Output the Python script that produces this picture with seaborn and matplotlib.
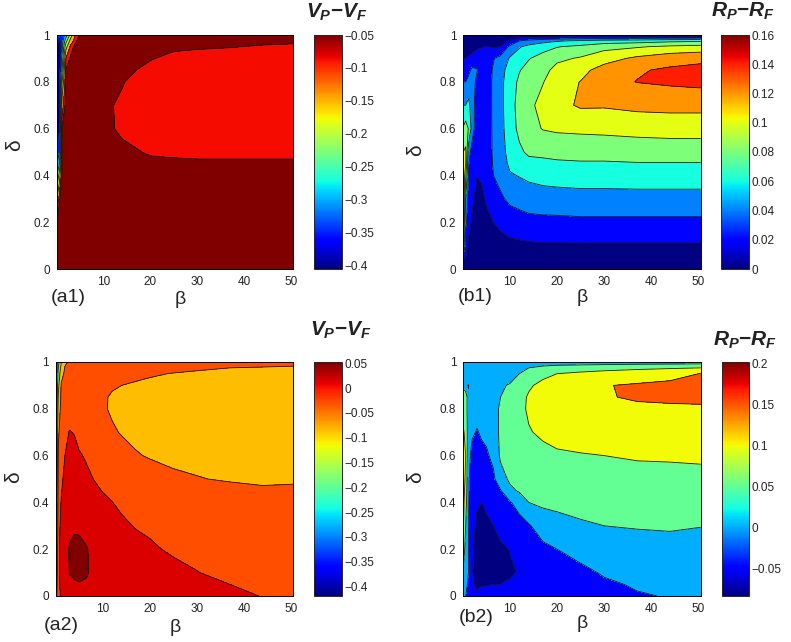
import numpy as np
import matplotlib
matplotlib.use('Agg')
import matplotlib.pyplot as plt
import matplotlib.colors as mcolors
import matplotlib.cm as cm
import seaborn as sns

sns.set_theme(style='white')
plt.rcParams['font.family'] = ['Liberation Sans', 'DejaVu Sans']
plt.rcParams['mathtext.fontset'] = 'custom'
plt.rcParams['mathtext.it'] = 'Liberation Sans:bold:italic'
plt.rcParams['mathtext.rm'] = 'Liberation Sans:bold'
plt.rcParams['mathtext.bf'] = 'Liberation Sans:bold'
plt.rcParams['axes.unicode_minus'] = True
plt.rcParams['contour.negative_linestyle'] = 'solid'

# ---------------- grids (beta along x, delta along y) ----------------
beta_grid = [0.1, 0.6, 1.2, 2, 3, 4, 5, 6.5, 8, 10, 12, 14, 17, 20, 25, 30, 37, 44, 50.5]
delta_grid = [0, 0.05, 0.1, 0.2, 0.3, 0.4, 0.45, 0.5, 0.6, 0.7, 0.8, 0.85, 0.9, 0.95, 0.975, 1.0]

# each inner list: values along delta_grid for one beta of beta_grid
a1_columns = [
    [-0.06, -0.06, -0.06, -0.07, -0.15, -0.25, -0.3, -0.33, -0.37, -0.39, -0.40, -0.40, -0.39, -0.36, -0.33, -0.29],
    [-0.058, -0.058, -0.058, -0.06, -0.08, -0.18, -0.25, -0.3, -0.36, -0.38, -0.38, -0.38, -0.38, -0.38, -0.36, -0.34],
    [-0.058, -0.058, -0.058, -0.058, -0.06, -0.062, -0.063, -0.064, -0.075, -0.12, -0.2, -0.25, -0.28, -0.31, -0.32, -0.33],
    [-0.058, -0.058, -0.058, -0.058, -0.058, -0.059, -0.06, -0.06, -0.061, -0.062, -0.065, -0.072, -0.10, -0.17, -0.22, -0.28],
    [-0.058, -0.058, -0.058, -0.058, -0.058, -0.058, -0.058, -0.059, -0.06, -0.06, -0.061, -0.063, -0.07, -0.09, -0.13, -0.18],
    [-0.058, -0.058, -0.058, -0.058, -0.058, -0.058, -0.058, -0.058, -0.059, -0.06, -0.06, -0.061, -0.062, -0.068, -0.08, -0.10],
    [-0.058, -0.058, -0.058, -0.058, -0.058, -0.058, -0.058, -0.059, -0.06, -0.06, -0.06, -0.06, -0.06, -0.062, -0.065, -0.07],
    [-0.057, -0.057, -0.057, -0.058, -0.059, -0.06, -0.061, -0.062, -0.064, -0.064, -0.063, -0.062, -0.061, -0.06, -0.06, -0.059],
    [-0.057, -0.057, -0.057, -0.058, -0.059, -0.061, -0.062, -0.063, -0.066, -0.066, -0.065, -0.063, -0.062, -0.06, -0.06, -0.059],
    [-0.056, -0.056, -0.057, -0.058, -0.06, -0.061, -0.063, -0.065, -0.069, -0.07, -0.067, -0.065, -0.063, -0.061, -0.06, -0.059],
    [-0.056, -0.056, -0.057, -0.058, -0.06, -0.062, -0.065, -0.069, -0.074, -0.0745, -0.071, -0.067, -0.064, -0.061, -0.06, -0.058],
    [-0.055, -0.055, -0.056, -0.058, -0.06, -0.062, -0.066, -0.07, -0.079, -0.08, -0.073, -0.068, -0.064, -0.06, -0.059, -0.058],
    [-0.055, -0.055, -0.056, -0.058, -0.061, -0.064, -0.068, -0.073, -0.085, -0.088, -0.083, -0.075, -0.067, -0.062, -0.06, -0.058],
    [-0.055, -0.055, -0.056, -0.058, -0.061, -0.064, -0.069, -0.078, -0.087, -0.09, -0.088, -0.083, -0.073, -0.065, -0.062, -0.059],
    [-0.055, -0.055, -0.056, -0.058, -0.061, -0.065, -0.07, -0.08, -0.088, -0.09, -0.09, -0.088, -0.082, -0.07, -0.064, -0.06],
    [-0.055, -0.055, -0.056, -0.058, -0.061, -0.066, -0.071, -0.081, -0.088, -0.09, -0.09, -0.089, -0.085, -0.072, -0.066, -0.06],
    [-0.055, -0.055, -0.056, -0.058, -0.061, -0.066, -0.071, -0.081, -0.088, -0.09, -0.09, -0.089, -0.086, -0.074, -0.068, -0.06],
    [-0.055, -0.055, -0.056, -0.058, -0.061, -0.066, -0.071, -0.081, -0.088, -0.09, -0.09, -0.089, -0.087, -0.077, -0.07, -0.06],
    [-0.055, -0.055, -0.056, -0.058, -0.061, -0.066, -0.071, -0.081, -0.088, -0.09, -0.09, -0.089, -0.087, -0.078, -0.072, -0.06],
]

b1_columns = [
    [0, 0.03, 0.08, 0.11, 0.125, 0.12, 0.11, 0.1, 0.082, 0.06, 0.04, 0.03, 0.02, 0.012, 0.006, 0],
    [0, 0.02, 0.03, 0.045, 0.06, 0.085, 0.1, 0.103, 0.09, 0.06, 0.04, 0.03, 0.02, 0.012, 0.006, 0],
    [0, 0.007, 0.016, 0.028, 0.034, 0.038, 0.042, 0.05, 0.079, 0.066, 0.045, 0.035, 0.022, 0.012, 0.006, 0],
    [0, 0.004, 0.008, 0.017, 0.023, 0.026, 0.028, 0.03, 0.05, 0.048, 0.047, 0.044, 0.026, 0.013, 0.006, 0],
    [0, 0.002, 0.004, 0.009, 0.015, 0.0205, 0.022, 0.024, 0.026, 0.03, 0.036, 0.041, 0.032, 0.016, 0.008, 0],
    [0, 0.002, 0.004, 0.01, 0.016, 0.022, 0.024, 0.026, 0.028, 0.029, 0.03, 0.03, 0.028, 0.019, 0.009, 0],
    [0, 0.003, 0.006, 0.015, 0.022, 0.026, 0.027, 0.028, 0.030, 0.031, 0.031, 0.031, 0.03, 0.021, 0.01, 0],
    [0, 0.004, 0.009, 0.02, 0.032, 0.04, 0.042, 0.043, 0.043, 0.043, 0.043, 0.042, 0.039, 0.018, 0.008, 0],
    [0, 0.006, 0.012, 0.025, 0.037, 0.046, 0.049, 0.051, 0.053, 0.054, 0.054, 0.052, 0.046, 0.02, 0.01, 0],
    [0, 0.007, 0.015, 0.03, 0.044, 0.058, 0.064, 0.068, 0.072, 0.073, 0.072, 0.069, 0.062, 0.045, 0.022, 0],
    [0, 0.008, 0.016, 0.032, 0.047, 0.061, 0.07, 0.077, 0.084, 0.086, 0.083, 0.079, 0.072, 0.058, 0.04, 0],
    [0, 0.008, 0.017, 0.034, 0.05, 0.064, 0.075, 0.083, 0.093, 0.095, 0.09, 0.086, 0.079, 0.066, 0.047, 0],
    [0, 0.009, 0.018, 0.035, 0.051, 0.067, 0.076, 0.084, 0.101, 0.107, 0.099, 0.094, 0.087, 0.073, 0.053, 0],
    [0, 0.009, 0.018, 0.035, 0.052, 0.068, 0.077, 0.086, 0.103, 0.114, 0.112, 0.106, 0.096, 0.079, 0.058, 0],
    [0, 0.009, 0.018, 0.036, 0.053, 0.069, 0.078, 0.087, 0.104, 0.1225, 0.1205, 0.114, 0.102, 0.085, 0.063, 0],
    [0, 0.009, 0.018, 0.036, 0.053, 0.069, 0.078, 0.087, 0.105, 0.122, 0.133, 0.128, 0.112, 0.094, 0.068, 0],
    [0, 0.009, 0.018, 0.036, 0.053, 0.070, 0.079, 0.088, 0.107, 0.125, 0.1405, 0.138, 0.124, 0.098, 0.071, 0],
    [0, 0.009, 0.018, 0.036, 0.053, 0.070, 0.079, 0.089, 0.108, 0.126, 0.143, 0.143, 0.132, 0.104, 0.075, 0],
    [0, 0.009, 0.018, 0.036, 0.053, 0.070, 0.079, 0.089, 0.108, 0.126, 0.145, 0.146, 0.135, 0.107, 0.077, 0],
]

a2_columns = [
    [-0.1, -0.12, -0.14, -0.17, -0.2, -0.24, -0.26, -0.28, -0.31, -0.34, -0.37, -0.38, -0.39, -0.40, -0.41, -0.41],
    [-0.02, -0.02, -0.022, -0.025, -0.03, -0.04, -0.045, -0.05, -0.06, -0.08, -0.11, -0.14, -0.17, -0.22, -0.25, -0.28],
    [-0.005, 0.0, 0.004, 0.008, 0.004, -0.008, -0.014, -0.02, -0.03, -0.04, -0.05, -0.057, -0.065, -0.09, -0.12, -0.16],
    [0.005, 0.012, 0.018, 0.022, 0.018, 0.012, 0.007, 0.002, -0.01, -0.02, -0.035, -0.045, -0.052, -0.06, -0.066, -0.08],
    [0.012, 0.022, 0.031, 0.032, 0.024, 0.017, 0.014, 0.01, 0.002, -0.008, -0.03, -0.045, -0.05, -0.055, -0.058, -0.062],
    [0.02, 0.028, 0.033, 0.035, 0.027, 0.02, 0.016, 0.012, 0.003, -0.012, -0.035, -0.05, -0.055, -0.055, -0.055, -0.05],
    [0.024, 0.029, 0.034, 0.036, 0.026, 0.02, 0.015, 0.008, -0.004, -0.03, -0.05, -0.055, -0.055, -0.052, -0.05, -0.045],
    [0.026, 0.029, 0.031, 0.031, 0.025, 0.016, 0.01, 0.003, -0.016, -0.04, -0.055, -0.057, -0.056, -0.052, -0.048, -0.04],
    [0.026, 0.028, 0.028, 0.027, 0.02, 0.01, 0.002, -0.01, -0.03, -0.05, -0.06, -0.06, -0.058, -0.054, -0.05, -0.04],
    [0.028, 0.029, 0.029, 0.025, 0.015, 0.002, -0.012, -0.02, -0.04, -0.058, -0.066, -0.066, -0.062, -0.056, -0.051, -0.04],
    [0.027, 0.028, 0.027, 0.02, 0.008, -0.009, -0.02, -0.03, -0.05, -0.066, -0.074, -0.073, -0.067, -0.06, -0.054, -0.043],
    [0.026, 0.026, 0.024, 0.015, 0.0, -0.02, -0.03, -0.04, -0.058, -0.072, -0.076, -0.075, -0.07, -0.062, -0.056, -0.045],
    [0.025, 0.024, 0.02, 0.008, -0.013, -0.03, -0.04, -0.05, -0.068, -0.076, -0.078, -0.077, -0.073, -0.064, -0.058, -0.046],
    [0.024, 0.02, 0.014, -0.004, -0.017, -0.038, -0.048, -0.058, -0.072, -0.078, -0.08, -0.079, -0.076, -0.067, -0.06, -0.048],
    [0.02, 0.012, 0.002, -0.016, -0.03, -0.045, -0.054, -0.066, -0.075, -0.08, -0.083, -0.083, -0.08, -0.071, -0.063, -0.05],
    [0.012, 0.002, -0.009, -0.02, -0.035, -0.05, -0.058, -0.069, -0.076, -0.082, -0.085, -0.085, -0.082, -0.074, -0.066, -0.052],
    [0.004, -0.01, -0.02, -0.034, -0.045, -0.057, -0.064, -0.072, -0.079, -0.084, -0.087, -0.087, -0.084, -0.076, -0.07, -0.056],
    [-0.012, -0.02, -0.027, -0.038, -0.048, -0.06, -0.066, -0.075, -0.08, -0.085, -0.088, -0.088, -0.085, -0.078, -0.072, -0.058],
    [-0.02, -0.025, -0.03, -0.04, -0.05, -0.06, -0.065, -0.074, -0.08, -0.085, -0.088, -0.088, -0.085, -0.08, -0.074, -0.06],
]

b2_columns = [
    [0.005, 0.02, 0.04, 0.08, 0.105, 0.115, 0.12, 0.125, 0.12, 0.105, 0.08, 0.06, 0.045, 0.03, 0.025, 0.02],
    [0.0, 0.008, 0.015, 0.03, 0.05, 0.07, 0.08, 0.09, 0.1, 0.09, 0.07, 0.055, 0.045, 0.025, 0.015, 0.01],
    [-0.01, -0.005, 0.0, 0.001, 0.002, 0.003, 0.004, 0.005, 0.01, 0.02, 0.03, 0.045, 0.052, 0.02, 0.01, 0.005],
    [-0.04, -0.045, -0.048, -0.045, -0.04, -0.03, -0.025, -0.02, -0.01, 0.004, 0.012, 0.018, 0.02, 0.015, 0.01, 0.005],
    [-0.045, -0.056, -0.063, -0.062, -0.056, -0.046, -0.038, -0.03, -0.015, -0.002, 0.01, 0.018, 0.022, 0.018, 0.012, 0.005],
    [-0.04, -0.052, -0.068, -0.066, -0.06, -0.05, -0.035, -0.025, -0.008, 0.004, 0.012, 0.02, 0.025, 0.022, 0.015, 0.005],
    [-0.038, -0.052, -0.066, -0.066, -0.056, -0.045, -0.04, -0.03, -0.006, 0.01, 0.02, 0.025, 0.03, 0.028, 0.02, 0.006],
    [-0.035, -0.05, -0.062, -0.062, -0.05, -0.03, -0.018, -0.008, 0.01, 0.025, 0.035, 0.04, 0.043, 0.04, 0.03, 0.008],
    [-0.03, -0.05, -0.058, -0.055, -0.04, -0.01, -0.003, 0.03, 0.058, 0.06, 0.056, 0.05, 0.047, 0.042, 0.033, 0.01],
    [-0.028, -0.046, -0.054, -0.049, -0.03, -0.004, 0.04, 0.058, 0.068, 0.072, 0.07, 0.066, 0.052, 0.04, 0.03, 0.01],
    [-0.025, -0.04, -0.048, -0.045, -0.02, 0.02, 0.055, 0.065, 0.08, 0.09, 0.092, 0.088, 0.075, 0.05, 0.04, 0.012],
    [-0.02, -0.035, -0.042, -0.03, -0.005, 0.05, 0.058, 0.068, 0.088, 0.098, 0.104, 0.104, 0.095, 0.068, 0.05, 0.014],
    [-0.012, -0.025, -0.03, -0.012, 0.025, 0.058, 0.064, 0.072, 0.092, 0.105, 0.115, 0.116, 0.11, 0.09, 0.065, 0.016],
    [-0.008, -0.02, -0.022, 0.0, 0.035, 0.06, 0.068, 0.076, 0.096, 0.11, 0.122, 0.124, 0.12, 0.1, 0.075, 0.018],
    [-0.004, -0.012, -0.01, 0.015, 0.045, 0.063, 0.07, 0.078, 0.098, 0.115, 0.13, 0.135, 0.132, 0.108, 0.08, 0.02],
    [-0.008, -0.006, 0.004, 0.025, 0.05, 0.066, 0.074, 0.082, 0.1, 0.12, 0.138, 0.148, 0.148, 0.115, 0.085, 0.022],
    [-0.003, 0.004, 0.012, 0.032, 0.053, 0.07, 0.078, 0.086, 0.104, 0.124, 0.145, 0.153, 0.155, 0.125, 0.09, 0.024],
    [0.002, 0.008, 0.015, 0.034, 0.055, 0.072, 0.079, 0.087, 0.105, 0.126, 0.144, 0.157, 0.16, 0.135, 0.095, 0.025],
    [0.003, 0.009, 0.016, 0.035, 0.051, 0.073, 0.08, 0.088, 0.107, 0.128, 0.145, 0.158, 0.163, 0.151, 0.1, 0.026],
]

# contour levels and the value whose jet colour fills each band
a1_levels = [-0.45, -0.35, -0.3, -0.25, -0.2, -0.15, -0.1, -0.075, 0.0]
a1_fills = [-0.406, -0.35, -0.3, -0.25, -0.2, -0.15, -0.087, -0.05]
b1_levels = [-0.01, 0.02, 0.04, 0.06, 0.08, 0.10, 0.12, 0.14, 0.2]
b1_fills = [0.0, 0.02, 0.04, 0.06, 0.08, 0.10, 0.12, 0.14]
a2_levels = [-0.45, -0.35, -0.25, -0.15, -0.07, -0.01, 0.03, 0.1]
a2_fills = [-0.4, -0.3, -0.2, -0.085, -0.03, 0.014, 0.052]
b2_levels = [-0.2, -0.05, 0.0, 0.05, 0.1, 0.15, 0.3]
b2_fills = [-0.084, -0.05, 0.0, 0.05, 0.1, 0.15]

# colour limits and colour-bar ticks
a1_clim = (-0.406, -0.05)
b1_clim = (0.0, 0.16)
a2_clim = (-0.419, 0.0525)
b2_clim = (-0.084, 0.2015)
a1_cticks = [-0.05, -0.1, -0.15, -0.2, -0.25, -0.3, -0.35, -0.4]
b1_cticks = [0, 0.02, 0.04, 0.06, 0.08, 0.1, 0.12, 0.14, 0.16]
a2_cticks = [0.05, 0, -0.05, -0.1, -0.15, -0.2, -0.25, -0.3, -0.35, -0.4]
b2_cticks = [0.2, 0.15, 0.1, 0.05, 0, -0.05]

x_ticks = [10, 20, 30, 40, 50]
y_ticks = [0, 0.2, 0.4, 0.6, 0.8, 1]

W, H = 791, 642


def fmt(v):
    return f'{v:g}'.replace('-', '\u2212')


def fx(px):
    return px / W


def fy(py):
    return 1 - py / H


fig = plt.figure(figsize=(W / 100, H / 100), dpi=100)

panels = [
    dict(cols=a1_columns, levels=a1_levels, fills=a1_fills, clim=a1_clim, cticks=a1_cticks,
         ax=(57, 293, 35, 269), cb=(314, 342), tag='(a1)', tagpos=(68, 298),
         title=r'$V_P{-}V_F$', titlepos=(337, 18), blab=(180, 300), dlab=(15, 145)),
    dict(cols=b1_columns, levels=b1_levels, fills=b1_fills, clim=b1_clim, cticks=b1_cticks,
         ax=(463.3, 700.7, 35, 269), cb=(721, 749), tag='(b1)', tagpos=(475, 296),
         title=r'$R_P{-}R_F$', titlepos=(743, 17), blab=(582, 298), dlab=(416, 150)),
    dict(cols=a2_columns, levels=a2_levels, fills=a2_fills, clim=a2_clim, cticks=a2_cticks,
         ax=(56, 293.3, 362, 596), cb=(314, 342), tag='(a2)', tagpos=(61, 625),
         title=r'$V_P{-}V_F$', titlepos=(341, 336), blab=(175, 628), dlab=(14, 477)),
    dict(cols=b2_columns, levels=b2_levels, fills=b2_fills, clim=b2_clim, cticks=b2_cticks,
         ax=(463.3, 700.7, 362, 596), cb=(722, 749), tag='(b2)', tagpos=(476, 617),
         title=r'$R_P{-}R_F$', titlepos=(745, 346), blab=(582, 623), dlab=(416, 477)),
]

cmap = plt.get_cmap('jet')
for p in panels:
    l, r, t, b = p['ax']
    ax = fig.add_axes([fx(l), fy(b), (r - l) / W, (b - t) / H])
    Z = np.array(p['cols']).T
    norm = mcolors.Normalize(vmin=p['clim'][0], vmax=p['clim'][1])
    fill_colors = [cmap(norm(v)) for v in p['fills']]
    ax.contourf(beta_grid, delta_grid, Z, levels=p['levels'], colors=fill_colors)
    ax.contour(beta_grid, delta_grid, Z, levels=p['levels'][1:-1], colors='k',
               linewidths=0.6, linestyles='solid')
    ax.set_xlim(beta_grid[0], beta_grid[-1])
    ax.set_ylim(0, 1)
    ax.set_xticks(x_ticks)
    ax.set_xticklabels([fmt(v) for v in x_ticks])
    ax.set_yticks(y_ticks)
    ax.set_yticklabels([fmt(v) for v in y_ticks])
    ax.tick_params(direction='in', top=True, right=True, length=4, width=0.6,
                   labelsize=8.5, colors='#222222', pad=5)
    for s in ax.spines.values():
        s.set_linewidth(0.7)
        s.set_color('black')
    ax.set_xlabel('β', fontsize=14)
    ax.xaxis.set_label_coords((p['blab'][0] - l) / (r - l), (b - p['blab'][1]) / (b - t))
    ax.xaxis.label.set_va('center')
    ax.set_ylabel('δ', fontsize=15)
    ax.yaxis.set_label_coords((p['dlab'][0] - l) / (r - l), (b - p['dlab'][1]) / (b - t))
    ax.yaxis.label.set_va('center')

    c0, c1 = p['cb']
    cax = fig.add_axes([fx(c0), fy(b), (c1 - c0) / W, (b - t) / H])
    sm = cm.ScalarMappable(norm=norm, cmap=cmap)
    cbar = fig.colorbar(sm, cax=cax)
    cbar.set_ticks(p['cticks'])
    cbar.set_ticklabels([fmt(v) for v in p['cticks']])
    cax.tick_params(direction='in', length=3, width=0.6, labelsize=8.5, colors='#222222', pad=2)
    cbar.outline.set_linewidth(0.7)

    fig.text(fx(p['tagpos'][0]), fy(p['tagpos'][1]), p['tag'], fontsize=14,
             ha='center', va='center', color='#222222')
    fig.text(fx(p['titlepos'][0]), fy(p['titlepos'][1]), p['title'], fontsize=15,
             ha='center', va='baseline', color='#222222')

fig.savefig('out.png', dpi=100)
